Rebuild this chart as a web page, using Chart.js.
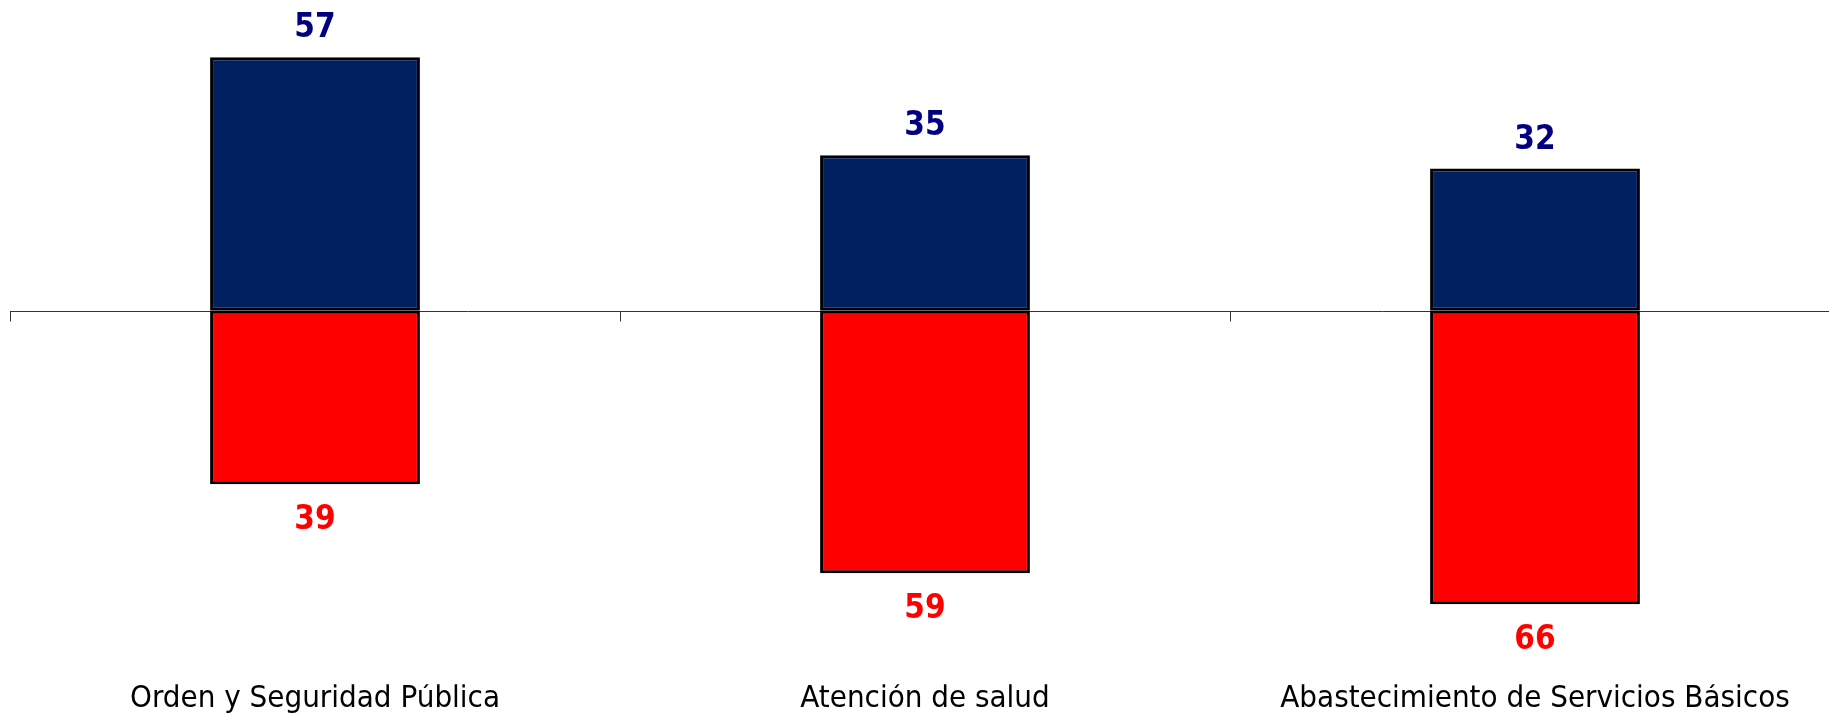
<!DOCTYPE html>
<html lang="es">
<head>
<meta charset="utf-8">
<title>Evaluación por área</title>
<script src="https://cdn.jsdelivr.net/npm/chart.js@4.4.1/dist/chart.umd.min.js"></script>
<style>
  html, body { margin: 0; padding: 0; background: #fff; overflow: hidden; }
  #wrap { width: 1840px; height: 714px; position: relative; }
</style>
</head>
<body>
<div id="wrap"><canvas id="barChart"></canvas></div>
<script>
// Data
const categories = ["Orden y Seguridad Pública", "Atención de salud", "Abastecimiento de Servicios Básicos"]
const positivos = [57, 35, 32]
const negativos = [39, 59, 66]

const navy = "#002060"
const red = "#FF0000"

// zero line + tick marks at the category boundaries
const zeroAxis = {
  id: "zeroAxis",
  beforeDatasetsDraw(chart) {
    const { ctx, chartArea, scales } = chart
    const y0 = Math.round(scales.y.getPixelForValue(0)) + 0.5
    const half = (scales.x.getPixelForValue(1) - scales.x.getPixelForValue(0)) / 2
    ctx.save()
    ctx.strokeStyle = "#333"
    ctx.lineWidth = 1
    ctx.beginPath()
    ctx.moveTo(chartArea.left, y0)
    ctx.lineTo(chartArea.right, y0)
    for (let i = 0; i <= categories.length; i++) {
      const x = Math.round(scales.x.getPixelForValue(i) - half) + 0.5
      ctx.moveTo(x, y0)
      ctx.lineTo(x, y0 + 10)
    }
    ctx.stroke()
    ctx.restore()
  },
}

// value labels above / below the bars
const valueLabels = {
  id: "valueLabels",
  afterDatasetsDraw(chart) {
    const { ctx } = chart
    ctx.save()
    ctx.font = "bold 33px 'DejaVu Sans Condensed', 'DejaVu Sans', sans-serif"
    ctx.textAlign = "center"
    ctx.textBaseline = "alphabetic"
    chart.data.datasets.forEach((ds, di) => {
      const meta = chart.getDatasetMeta(di)
      meta.data.forEach((bar, i) => {
        const v = ds.data[i]
        ctx.fillStyle = ds.labelColor
        if (v >= 0) {
          ctx.fillText(String(v), bar.x, bar.y - 20)
        } else {
          ctx.fillText(String(-v), bar.x, bar.y + 45)
        }
      })
    })
    ctx.restore()
  },
}

new Chart(document.getElementById("barChart"), {
  type: "bar",
  data: {
    labels: categories,
    datasets: [
      {
        label: "Positivo",
        data: positivos,
        backgroundColor: navy,
        borderColor: "#000",
        borderWidth: 3,
        borderSkipped: false,
        labelColor: "#000080",
      },
      {
        label: "Negativo",
        data: negativos.map((v) => -v),
        backgroundColor: red,
        borderColor: "#000",
        borderWidth: 3,
        borderSkipped: false,
        labelColor: "#FF0000",
      },
    ],
  },
  options: {
    responsive: true,
    maintainAspectRatio: false,
    animation: false,
    layout: { padding: { left: 10, right: 0, top: 0, bottom: 0 } },
    datasets: {
      bar: { barPercentage: 0.344, categoryPercentage: 1 },
    },
    plugins: {
      legend: { display: false },
      tooltip: { enabled: false },
    },
    scales: {
      x: {
        stacked: true,
        grid: { display: false, drawTicks: false },
        border: { display: false },
        ticks: {
          color: "#000",
          padding: 4,
          maxRotation: 0,
          autoSkip: false,
          font: { family: "'DejaVu Sans Condensed', 'DejaVu Sans', sans-serif", size: 31, lineHeight: 0.7 },
        },
      },
      y: {
        stacked: true,
        display: false,
        min: -84,
        max: 69.9,
      },
    },
  },
  plugins: [zeroAxis, valueLabels],
})
</script>
</body>
</html>
